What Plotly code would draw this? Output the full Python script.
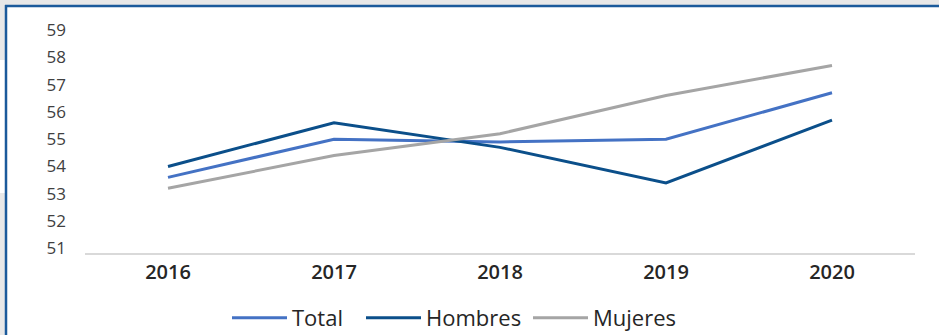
import plotly.graph_objects as go

years = ["2016", "2017", "2018", "2019", "2020"]
total = [53.6, 55.0, 54.9, 55.0, 56.7]
hombres = [54.0, 55.6, 54.7, 53.4, 55.7]
mujeres = [53.2, 54.4, 55.2, 56.6, 57.7]
y_ticks = [51, 52, 53, 54, 55, 56, 57, 58, 59]

series = [
    ("Total", total, "#4472C4", "legend", 227),
    ("Hombres", hombres, "#0B4F8A", "legend2", 361),
    ("Mujeres", mujeres, "#A5A5A5", "legend3", 528),
]

FONT = "Open Sans"

W, H = 939, 335
L, R, T, B = 85, 24, 30, 82

def px_x(p):
    return (p - L) / (W - L - R)

def px_y(p):
    return 1 - (p - T) / (H - T - B)

fig = go.Figure()
legends = {}
for name, vals, col, lg, lx in series:
    fig.add_trace(go.Scatter(x=years, y=vals, name=name, mode="lines",
                             line=dict(color=col, width=3), legend=lg))
    legends[lg] = dict(orientation="h", x=px_x(lx), xanchor="left", y=px_y(318), yanchor="middle",
                       font=dict(family=FONT, size=22, color="#262626"),
                       itemwidth=55, bgcolor="rgba(0,0,0,0)")

shapes = [
    dict(type="rect", xref="paper", yref="paper", x0=px_x(0), x1=px_x(W), y0=px_y(0), y1=px_y(5),
         fillcolor="#E8E8E8", line=dict(width=0), layer="below"),
    dict(type="rect", xref="paper", yref="paper", x0=px_x(0), x1=px_x(5), y0=px_y(0), y1=px_y(60),
         fillcolor="#E8E8E8", line=dict(width=0), layer="below"),
    dict(type="rect", xref="paper", yref="paper", x0=px_x(0), x1=px_x(5), y0=px_y(193), y1=px_y(H),
         fillcolor="#E8E8E8", line=dict(width=0), layer="below"),
    dict(type="line", xref="paper", yref="paper", x0=px_x(5), x1=px_x(W), y0=px_y(6), y1=px_y(6),
         line=dict(color="#1B5A9B", width=2.5)),
    dict(type="line", xref="paper", yref="paper", x0=px_x(6), x1=px_x(6), y0=px_y(5), y1=px_y(H),
         line=dict(color="#1B5A9B", width=2.5)),
]

fig.update_layout(
    width=W, height=H,
    margin=dict(l=L, r=R, t=T, b=B, autoexpand=False),
    paper_bgcolor="white", plot_bgcolor="white",
    font=dict(family=FONT, color="#262626"),
    shapes=shapes,
    showlegend=True,
    xaxis=dict(type="category", range=[-0.5, 4.5], showgrid=False, zeroline=False, showline=True,
               linecolor="#D9D9D9", linewidth=1.5, ticks="",
               tickfont=dict(family=FONT, size=20, color="#262626", weight=600),
               ticklabelstandoff=0),
    yaxis=dict(range=[50.83, 59.0], tickvals=y_ticks, showgrid=False, zeroline=False,
               showline=False, ticks="", tickfont=dict(family=FONT, size=17, color="#404040"),
               ticklabelstandoff=18),
    **legends,
)

fig.write_html("out.html", config={"displayModeBar": False},
               post_script="document.body.style.margin='0';document.body.style.padding='0';")
